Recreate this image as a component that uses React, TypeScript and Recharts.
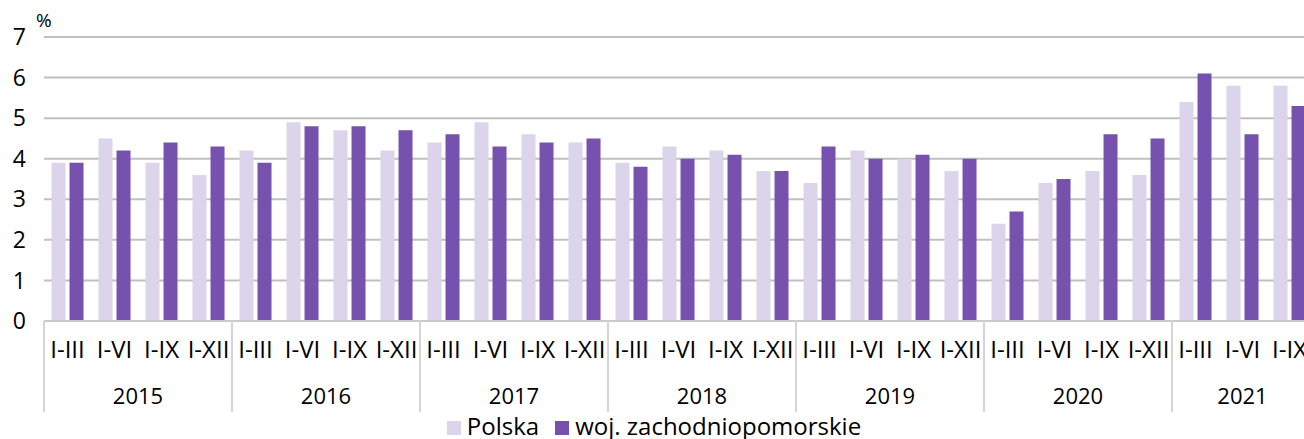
import React from 'react';
import { BarChart, Bar, XAxis, YAxis, CartesianGrid, Legend } from 'recharts';

const years = ['2015', '2016', '2017', '2018', '2019', '2020', '2021'];
const periods = ['I-III', 'I-VI', 'I-IX', 'I-XII'];
const polska = [
  3.9, 4.5, 3.9, 3.6,
  4.2, 4.9, 4.7, 4.2,
  4.4, 4.9, 4.6, 4.4,
  3.9, 4.3, 4.2, 3.7,
  3.4, 4.2, 4.0, 3.7,
  2.4, 3.4, 3.7, 3.6,
  5.4, 5.8, 5.8,
];
const zachodniopomorskie = [
  3.9, 4.2, 4.4, 4.3,
  3.9, 4.8, 4.8, 4.7,
  4.6, 4.3, 4.4, 4.5,
  3.8, 4.0, 4.1, 3.7,
  4.3, 4.0, 4.1, 4.0,
  2.7, 3.5, 4.6, 4.5,
  6.1, 4.6, 5.3,
];
const yTicks = [0, 1, 2, 3, 4, 5, 6, 7];

const rows = polska.map((v, i) => ({
  year: years[Math.floor(i / 4)],
  period: periods[i % 4],
  polska: v,
  woj: zachodniopomorskie[i],
}));

const CHART_W = 1320;
const Y_W = 44;
const RIGHT = 7;
const band = (CHART_W - Y_W - RIGHT) / rows.length;

const LIGHT = '#dcd4ea';
const DARK = '#7651ae';
const FONT = '"Open Sans", "Noto Sans", sans-serif';

// draws the year label centred under its quarters, plus the separator line
const YearTick = (props: any) => {
  const { x, y, index } = props;
  const row = rows[index];
  if (!row || (index > 0 && rows[index - 1].year === row.year)) return <g />;
  const n = rows.filter(r => r.year === row.year).length;
  const left = x - band / 2;
  return (
    <g>
      <line x1={left} x2={left} y1={y - 46} y2={y + 45} stroke="#d4d4d4" strokeWidth={2} />
      <text x={left + (n * band) / 2} y={y + 37} textAnchor="middle" fontSize={22} fill="#000" fontFamily={FONT}>
        {row.year}
      </text>
    </g>
  );
};

const renderLegend = (props: any) => {
  const { payload } = props;
  return (
    <div style={{ display: 'flex', justifyContent: 'center', alignItems: 'center', height: 27, lineHeight: '27px', paddingLeft: 4, fontFamily: FONT, fontSize: 24, color: '#000' }}>
      {payload.map((entry: any, i: number) => (
        <div key={`item-${i}`} style={{ display: 'flex', alignItems: 'center', marginLeft: i > 0 ? 16 : 0 }}>
          <span style={{ width: 14, height: 14, background: entry.color, display: 'inline-block', marginRight: 6, marginTop: 4 }} />
          <span>{entry.value}</span>
        </div>
      ))}
    </div>
  );
};

const App: React.FC = () => {
  return (
    <div style={{ position: 'absolute', left: 0, top: 0, width: 1304, height: 439, overflow: 'hidden', fontFamily: FONT, background: '#fff' }}>
      <div style={{ position: 'absolute', left: 36, top: 8, fontSize: 19, lineHeight: '24px', color: '#000' }}>%</div>
      <BarChart
        width={CHART_W}
        height={439}
        data={rows}
        margin={{ top: 37, right: RIGHT, left: 0, bottom: 0 }}
        barCategoryGap="16%"
        barGap={4}
      >
        <CartesianGrid vertical={false} stroke="#c0c0c0" strokeWidth={2} />
        <XAxis
          xAxisId="q"
          dataKey="period"
          interval={0}
          height={46}
          tickSize={0}
          tickMargin={20}
          tickLine={false}
          axisLine={{ stroke: '#cacaca', strokeWidth: 2 }}
          tick={{ fontSize: 24, fill: '#000', fontFamily: FONT }}
        />
        <XAxis
          xAxisId="y"
          dataKey="year"
          interval={0}
          height={45}
          tickSize={0}
          tickMargin={0}
          tickLine={false}
          axisLine={false}
          tick={<YearTick />}
        />
        <YAxis
          width={Y_W}
          domain={[0, 7]}
          ticks={yTicks}
          interval={0}
          axisLine={false}
          tickLine={false}
          tickSize={0}
          tickMargin={18}
          tick={{ fontSize: 23, fill: '#000', fontFamily: FONT }}
        />
        <Legend verticalAlign="bottom" content={renderLegend} wrapperStyle={{ left: 0, width: 1304, bottom: 0, height: 27 }} />
        <Bar xAxisId="q" dataKey="polska" name="Polska" fill={LIGHT} isAnimationActive={false} />
        <Bar xAxisId="q" dataKey="woj" name="woj. zachodniopomorskie" fill={DARK} isAnimationActive={false} />
      </BarChart>
    </div>
  );
};

export default App;
